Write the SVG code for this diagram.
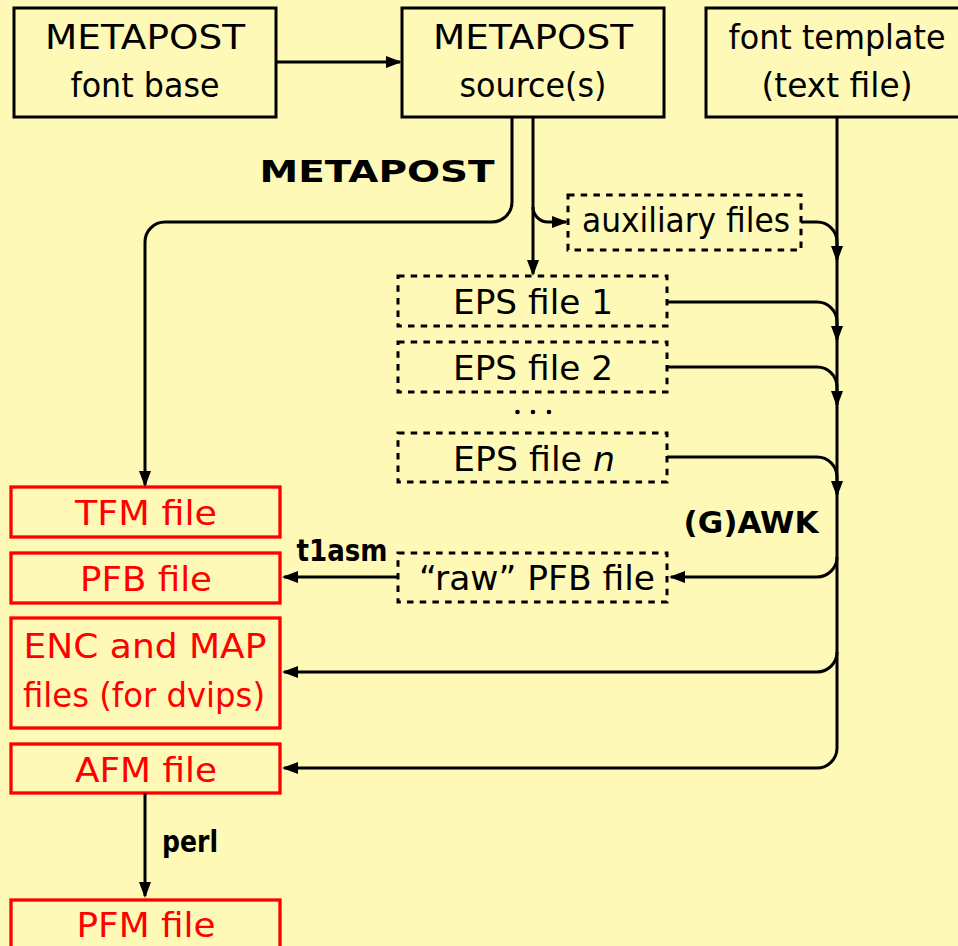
<svg xmlns="http://www.w3.org/2000/svg" width="958" height="946" viewBox="0 0 958 946">
  <style>
    text { font-family: "DejaVu Sans", "Liberation Sans", sans-serif; font-size: 34px; text-anchor: middle; fill: #000; }
    .out text { fill: #ff0000; }
    .lbl { font-weight: bold; font-size: 31px; }
    .box { fill: none; stroke: #000; stroke-width: 3; }
    .dash { fill: none; stroke: #000; stroke-width: 3; stroke-dasharray: 6.5 6.2; }
    .red { fill: none; stroke: #ff0000; stroke-width: 3.3; }
    .wire { fill: none; stroke: #000; stroke-width: 3; marker-end: url(#head); }
  </style>
  <defs>
    <marker id="head" markerUnits="userSpaceOnUse" markerWidth="18" markerHeight="14" refX="14" refY="6" orient="auto">
      <path d="M0,0 L16,6 L0,12 z" fill="#000"/>
    </marker>
  </defs>

  <rect width="958" height="946" fill="#fef9b6"/>

  <!-- source nodes -->
  <g id="fontbase">
    <rect class="box" x="14" y="8" width="262" height="109"/>
    <text x="145" y="49" textLength="200" lengthAdjust="spacingAndGlyphs">METAPOST</text>
    <text x="145" y="97" textLength="149" lengthAdjust="spacingAndGlyphs">font base</text>
  </g>
  <g id="sources">
    <rect class="box" x="402" y="8" width="262" height="109"/>
    <text x="533" y="49" textLength="200" lengthAdjust="spacingAndGlyphs">METAPOST</text>
    <text x="533" y="97" textLength="147" lengthAdjust="spacingAndGlyphs">source(s)</text>
  </g>
  <g id="template">
    <rect class="box" x="706" y="8" width="262" height="109"/>
    <text x="837" y="49" textLength="217" lengthAdjust="spacingAndGlyphs">font template</text>
    <text x="837" y="97" textLength="151" lengthAdjust="spacingAndGlyphs">(text file)</text>
  </g>

  <!-- intermediate files -->
  <g id="aux">
    <rect class="dash" x="568" y="195" width="233" height="55"/>
    <text x="686" y="232" textLength="208" lengthAdjust="spacingAndGlyphs">auxiliary files</text>
  </g>
  <g id="eps1">
    <rect class="dash" x="398" y="276" width="269" height="50"/>
    <text x="533" y="314" textLength="160" lengthAdjust="spacingAndGlyphs">EPS file 1</text>
  </g>
  <g id="eps2">
    <rect class="dash" x="398" y="342" width="269" height="50"/>
    <text x="533" y="380" textLength="160" lengthAdjust="spacingAndGlyphs">EPS file 2</text>
  </g>
  <g id="dots">
    <circle cx="517.5" cy="412" r="2.3" fill="#000"/>
    <circle cx="533" cy="412" r="2.3" fill="#000"/>
    <circle cx="549" cy="412" r="2.3" fill="#000"/>
  </g>
  <g id="epsn">
    <rect class="dash" x="398" y="433" width="269" height="49"/>
    <text x="534" y="471" textLength="162" lengthAdjust="spacingAndGlyphs">EPS file <tspan font-style="italic">n</tspan></text>
  </g>
  <g id="rawpfb">
    <rect class="dash" x="398" y="553" width="269" height="49"/>
    <text x="537" y="590" textLength="236" lengthAdjust="spacingAndGlyphs">“raw” PFB file</text>
  </g>

  <!-- output files -->
  <g id="tfm" class="out">
    <rect class="red" x="11" y="487" width="269" height="50"/>
    <text x="146" y="525" textLength="142" lengthAdjust="spacingAndGlyphs">TFM file</text>
  </g>
  <g id="pfb" class="out">
    <rect class="red" x="11" y="553" width="269" height="50"/>
    <text x="146" y="591" textLength="132" lengthAdjust="spacingAndGlyphs">PFB file</text>
  </g>
  <g id="encmap" class="out">
    <rect class="red" x="11" y="618" width="269" height="110"/>
    <text x="145" y="658" textLength="243" lengthAdjust="spacingAndGlyphs">ENC and MAP</text>
    <text x="144" y="707" textLength="242" lengthAdjust="spacingAndGlyphs">files (for dvips)</text>
  </g>
  <g id="afm" class="out">
    <rect class="red" x="11" y="744" width="269" height="49"/>
    <text x="146" y="782" textLength="142" lengthAdjust="spacingAndGlyphs">AFM file</text>
  </g>
  <g id="pfm" class="out">
    <rect class="red" x="11" y="900" width="269" height="60"/>
    <text x="146" y="937" textLength="139" lengthAdjust="spacingAndGlyphs">PFM file</text>
  </g>

  <!-- connectors -->
  <g id="connectors">
    <path class="wire" d="M276,62 H400"/>
    <path class="wire" d="M512,117 V202 A20,20 0 0 1 492,222 H165 A20,20 0 0 0 145,242 V485"/>
    <path class="wire" d="M533,117 V274"/>
    <path class="wire" d="M533,207 A15,15 0 0 0 548,222 H566"/>
    <path class="wire" d="M801,222 H817 A20,20 0 0 1 837,242 V260"/>
    <path class="wire" d="M837,117 V748 A20,20 0 0 1 817,768 H284"/>
    <path class="wire" d="M667,302 H817 A20,20 0 0 1 837,322 V340"/>
    <path class="wire" d="M667,367 H817 A20,20 0 0 1 837,387 V405"/>
    <path class="wire" d="M667,457 H817 A20,20 0 0 1 837,477 V495"/>
    <path class="wire" d="M837,557 A20,20 0 0 1 817,577 H671"/>
    <path class="wire" d="M837,652 A20,20 0 0 1 817,672 H284"/>
    <path class="wire" d="M398,577 H284"/>
    <path class="wire" d="M145,793 V896"/>

    <text class="lbl" x="377" y="182" textLength="235" lengthAdjust="spacingAndGlyphs">METAPOST</text>
    <text class="lbl" x="751" y="533" textLength="135" lengthAdjust="spacingAndGlyphs">(G)AWK</text>
    <text class="lbl" x="342" y="561" textLength="91" lengthAdjust="spacingAndGlyphs">t1asm</text>
    <text class="lbl" x="190" y="852" textLength="56" lengthAdjust="spacingAndGlyphs" font-size="32">perl</text>
  </g>
</svg>
